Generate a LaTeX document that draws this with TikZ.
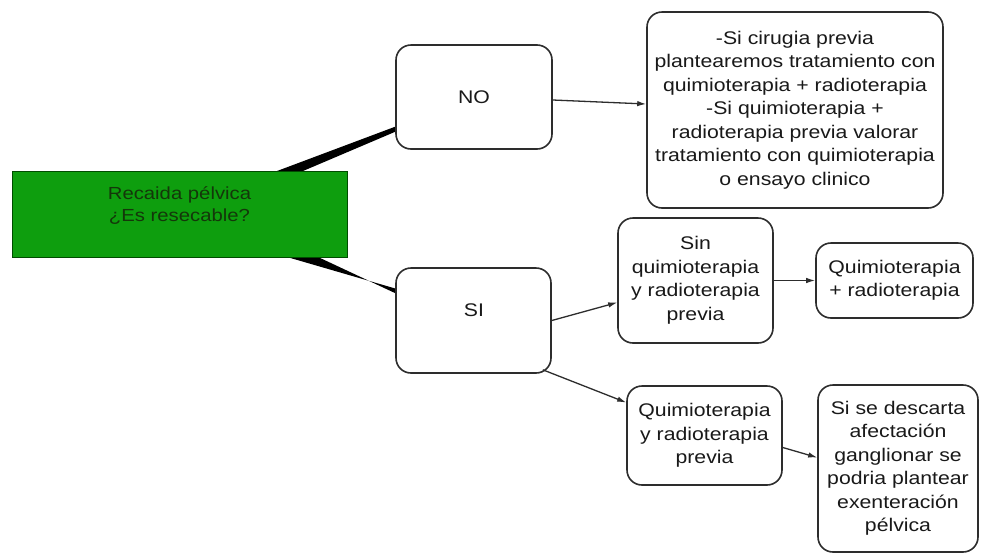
\documentclass[tikz,border=0pt]{standalone}
\usepackage{fontspec}
\setmainfont{Liberation Sans}[FakeStretch=1.16]
\usetikzlibrary{calc,arrows.meta}
\definecolor{boxgreen}{RGB}{14,158,14}
\definecolor{edge}{RGB}{45,45,45}
\definecolor{ink}{RGB}{25,25,25}
\definecolor{greenink}{RGB}{20,55,10}
\tikzset{
  rbox/.style={draw=edge, line width=1.6pt, rounded corners=15pt, fill=white,
    minimum width=#1, inner sep=0pt, align=center, text=ink,
    font=\fontsize{18.3}{23.5}\selectfont},
  conn/.style={draw=edge, line width=1.3pt, -{Latex[length=9pt,width=5.5pt]}}
}
\begin{document}
\begin{tikzpicture}[x=1pt,y=-1pt]
\useasboundingbox[fill=white] (0,0) rectangle (981,555);
% wedges (behind the green box)
\fill[black] (277,171) -- (303,171) -- (397,131) -- (397,126) -- cycle;
\fill[black] (287,257) -- (318,257) -- (397,294) -- (397,289) -- cycle;
% nodes
\node[draw=black!70!green, line width=0.8pt, fill=boxgreen, minimum width=335pt, minimum height=86pt,
      inner sep=0pt] (rec) at (179.5,214) {};
\node[align=center, text=greenink, font=\fontsize{17.5}{22}\selectfont] (rect) at (179.5,206)
      {Recaida pélvica\\¿Es resecable?};
\node[rbox=156pt, minimum height=104pt] (no) at (474,97) {NO};
\node[rbox=296pt, minimum height=196pt] (big) at (795,110)
  {-Si cirugia previa\\plantearemos tratamiento con\\quimioterapia + radioterapia\\-Si quimioterapia +\\radioterapia previa valorar\\tratamiento con quimioterapia\\o ensayo clinico};
\node[rbox=155pt, minimum height=105pt] (si) at (473.5,320.5) {};
\node[text=ink, font=\fontsize{18.3}{23.5}\selectfont] (sit) at (474,310) {SI};
\node[rbox=155pt, minimum height=125pt] (sin) at (695.5,280.5)
  {Sin\\quimioterapia\\y radioterapia\\previa};
\node[rbox=157pt, minimum height=75pt] (qr) at (894.5,280.5)
  {Quimioterapia\\+ radioterapia};
\node[rbox=155pt, minimum height=99pt] (qrp) at (704.5,435.5)
  {Quimioterapia\\y radioterapia\\previa};
\node[rbox=160pt, minimum height=167pt] (sd) at (898,468.5)
  {Si se descarta\\afectación\\ganglionar se\\podria plantear\\exenteración\\pélvica};
% connectors
\draw[conn] ($(no.east)+(0,3)$) -- ($(big.west)+(0,-6)$);
\draw[conn] (si.east) -- ($(sin.west)+(0,22)$);
\draw[conn] ($(si.south east)+(-9,-4)$) -- ($(qrp.west)+(0,-33)$);
\draw[conn] (sin.east) -- (qr.west);
\draw[conn] ($(qrp.east)+(0,12)$) -- ($(sd.west)+(0,-11)$);
\end{tikzpicture}
\end{document}
